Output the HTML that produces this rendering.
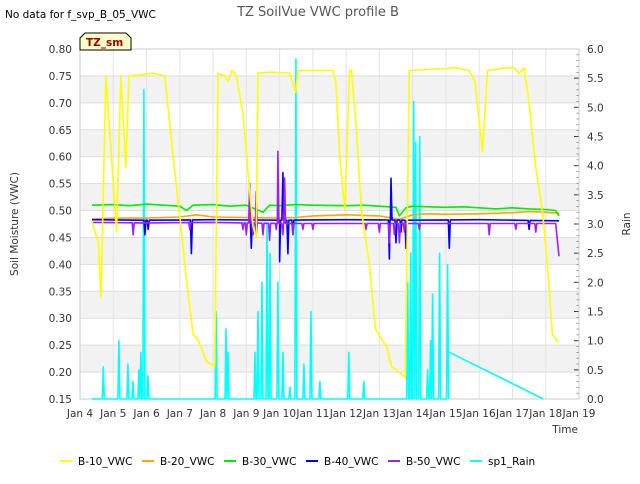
<!DOCTYPE html>
<html><head><meta charset="utf-8"><style>
body{margin:0;background:#fff;font-family:"DejaVu Sans","Liberation Sans",sans-serif;}
svg text{font-family:"DejaVu Sans","Liberation Sans",sans-serif;}
</style></head><body>
<svg id="chart" width="640" height="480" xmlns="http://www.w3.org/2000/svg">
<rect width="640" height="480" fill="#fff"/>
<text x="5" y="18" font-size="10.5" fill="#000">No data for f_svp_B_05_VWC</text>
<text x="318" y="16" font-size="13" fill="#555" text-anchor="middle">TZ SoilVue VWC profile B</text>
<g id="bands"></g><g id="grid"></g><g id="axes"></g><g id="series"></g>
<g>
<path d="M80,50 L80,38 L85,33 L126,33 L131,38 L131,50 Z" fill="#ffffc8" stroke="#000" stroke-width="1"/>
<text x="86" y="46" font-size="10.5" font-weight="bold" fill="#a00000">TZ_sm</text></g>
<text x="18" y="224" font-size="10.5" fill="#333" text-anchor="middle" transform="rotate(-90 18 224)">Soil Moisture (VWC)</text>
<text x="630" y="224" font-size="10.5" fill="#333" text-anchor="middle" transform="rotate(-90 630 224)">Rain</text>
<text x="578" y="433" font-size="10.5" fill="#333" text-anchor="end">Time</text>
<g id="legend"></g>
</svg>
<script>
const xTickLabels=["Jan 4","Jan 5","Jan 6","Jan 7","Jan 8","Jan 9","Jan 10","Jan 11","Jan 12","Jan 13","Jan 14","Jan 15","Jan 16","Jan 17","Jan 18","Jan 19"];
const yTicks=[0.15,0.20,0.25,0.30,0.35,0.40,0.45,0.50,0.55,0.60,0.65,0.70,0.75,0.80];
const y2Ticks=[0,0.5,1,1.5,2,2.5,3,3.5,4,4.5,5,5.5,6];
const b10Days=[4.36,4.55,4.63,4.78,5.1,5.23,5.38,5.47,5.8,6.2,6.55,6.8,7.0,7.2,7.4,7.55,7.8,8.05,8.15,8.35,8.45,8.57,8.7,8.9,9.08,9.2,9.3,9.35,9.7,10.3,10.48,10.55,11.0,11.6,11.69,11.81,11.96,12.1,12.16,12.31,12.46,12.7,12.88,13.08,13.2,13.37,13.6,13.78,13.9,14.5,15.3,15.7,15.87,16.1,16.25,16.8,17.05,17.2,17.35,17.5,17.7,17.9,18.05,18.2,18.37];
const b10Vals=[0.48,0.44,0.34,0.75,0.46,0.75,0.58,0.75,0.752,0.755,0.75,0.60,0.49,0.37,0.27,0.26,0.22,0.21,0.755,0.75,0.74,0.76,0.75,0.68,0.55,0.47,0.45,0.755,0.757,0.755,0.72,0.76,0.76,0.76,0.74,0.60,0.50,0.76,0.76,0.65,0.50,0.40,0.28,0.26,0.25,0.21,0.20,0.19,0.76,0.762,0.765,0.76,0.74,0.61,0.76,0.765,0.765,0.755,0.765,0.70,0.58,0.50,0.40,0.27,0.255];
const b20Days=[4.36,5,6,7,7.5,8,9,10,10.5,11,12,13,13.6,14,14.5,15,16,17,17.5,18,18.4];
const b20Vals=[0.484,0.486,0.486,0.488,0.492,0.488,0.487,0.486,0.487,0.490,0.492,0.490,0.484,0.492,0.494,0.493,0.494,0.496,0.498,0.497,0.495];
const b30Days=[4.36,5,5.5,6,6.5,7,7.2,7.4,8,8.5,9,9.5,9.7,10,10.5,11,12,12.5,13,13.5,13.6,13.8,14,14.5,15,15.5,16,16.5,17,17.5,18,18.3,18.4];
const b30Vals=[0.510,0.511,0.509,0.512,0.510,0.508,0.500,0.510,0.511,0.508,0.510,0.497,0.510,0.509,0.511,0.510,0.509,0.510,0.508,0.506,0.490,0.505,0.508,0.507,0.506,0.507,0.505,0.503,0.505,0.503,0.502,0.500,0.490];
const b40Days=[4.36,6,8,10,12,14,16,18.4];
const b40Vals=[0.483,0.482,0.483,0.482,0.483,0.482,0.483,0.481];
const b40SpikeDays=[5.95,6.05,7.35,9.15,9.3,10.0,10.1,10.25,10.4,13.3,13.35,13.5,13.65,13.8,15.1,17.5];
const b40SpikeVals=[0.455,0.465,0.420,0.430,0.455,0.405,0.570,0.420,0.455,0.410,0.560,0.440,0.460,0.430,0.430,0.465];
const b50Days=[4.36,6,8,10,12,14,16,18.3,18.4];
const b50Vals=[0.478,0.477,0.478,0.476,0.476,0.476,0.476,0.476,0.415];
const b50SpikeDays=[5.6,7.3,8.9,9.0,9.1,9.2,9.3,9.5,9.7,9.9,9.95,10.1,10.15,10.4,10.7,11.0,12.6,13.0,13.3,13.45,13.6,13.75,14.2,16.3,17.1,17.7];
const b50SpikeVals=[0.455,0.465,0.465,0.455,0.550,0.455,0.535,0.455,0.445,0.465,0.610,0.455,0.560,0.455,0.465,0.465,0.465,0.460,0.440,0.455,0.440,0.460,0.465,0.455,0.465,0.460];
const rainDays=[4.7,5.17,5.44,5.59,5.77,5.83,5.92,6.04,8.09,8.39,8.45,9.26,9.35,9.47,9.62,9.71,9.95,10.1,10.31,10.49,10.73,10.94,11.21,12.08,12.53,13.85,13.94,14.03,14.09,14.21,14.45,14.54,14.6,14.81,15.05];
const rainVals=[0.55,1.0,0.6,0.3,0.5,0.8,5.3,0.4,1.5,1.2,0.8,0.8,1.5,2.0,3.0,2.5,2.0,0.8,0.2,5.83,0.6,1.5,0.3,0.8,0.3,2.0,2.5,5.1,4.4,4.5,0.5,1.0,1.8,2.5,2.3];
const rainTailDays=[15.1,17.93];
const rainTailVals=[0.8,0];

const X0=80,X1=579,Y0=399,Y1=49;
const sx=d=>X0+(d-4)*(X1-X0)/15;
const sy=v=>Y0-(v-0.15)*(Y0-Y1)/0.65;
const sy2=v=>Y0-v*(Y0-Y1)/6;
const NS="http://www.w3.org/2000/svg";
function mk(tag,parent,attrs){const e=document.createElementNS(NS,tag);for(const k in attrs)e.setAttribute(k,attrs[k]);document.getElementById(parent).appendChild(e);return e;}

for(let i=0;i<6;i++){const lo=0.20+i*0.1;
const b=mk('rect','bands',{x:X0,y:sy(lo+0.05),width:X1-X0,height:sy(lo)-sy(lo+0.05),fill:'#f2f2f2'});

}
yTicks.forEach(v=>{const g=mk('line','grid',{x1:X0,x2:X1,y1:sy(v),y2:sy(v),stroke:'#ddd','stroke-width':1});


const t=mk('text','axes',{x:X0-8,y:sy(v)+4,'font-size':10.5,fill:'#333','text-anchor':'end'});t.textContent=v.toFixed(2);

});
xTickLabels.forEach((l,i)=>{const x=sx(4+i);
const g=mk('line','grid',{x1:x,x2:x,y1:Y1,y2:Y0,stroke:'#e4e4e4','stroke-width':1});


const t=mk('text','axes',{x:x,y:Y0+18,'font-size':10.5,fill:'#333','text-anchor':'middle'});t.textContent=l;

});
y2Ticks.forEach(v=>{const t=mk('text','axes',{x:X1+8,y:sy2(v)+4,'font-size':10.5,fill:'#333'});t.textContent=v.toFixed(1);


mk('line','axes',{x1:X1,x2:X1-5,y1:sy2(v),y2:sy2(v),stroke:'#333'});});
for(let v=0.1;v<6;v+=0.1){mk('line','axes',{x1:X1,x2:X1-2.5,y1:sy2(v),y2:sy2(v),stroke:'#555','stroke-width':0.6});}
mk('rect','axes',{x:X0,y:Y1,width:X1-X0,height:Y0-Y1,fill:'none',stroke:'#ccc'});

function line(days,vals,color,name,yf){const p=days.map((d,i)=>sx(d).toFixed(1)+','+yf(vals[i]).toFixed(1)).join(' ');
const e=mk('polyline','series',{points:p,fill:'none',stroke:color,'stroke-width':1.6,'stroke-linejoin':'round'});

}
function interp(days,vals,d){for(let i=1;i<days.length;i++){if(d<=days[i]){const t=(d-days[i-1])/(days[i]-days[i-1]);return vals[i-1]+t*(vals[i]-vals[i-1]);}}return vals[vals.length-1];}
function spiky(days,vals,sd,sv){const pts=days.map((d,i)=>[d,vals[i]]);
sd.forEach((d,i)=>{const b=interp(days,vals,d);pts.push([d-0.03,b],[d,sv[i]],[d+0.03,b]);});
pts.sort((a,b)=>a[0]-b[0]);return [pts.map(p=>p[0]),pts.map(p=>p[1])];}
// rain
let rd=[4.36],rv=[0];
rainDays.forEach((d,i)=>{rd.push(d-0.03,d,d+0.03);rv.push(0,rainVals[i],0);});
rd.push(15.08);rv.push(0);
line(rd,rv,'#00ffff','series-sp1-rain',sy2);
line(rainTailDays,rainTailVals,'#00ffff','series-sp1-rain-tail',sy2);
line(b20Days,b20Vals,'#ffa500','series-b20-vwc',sy);
line(b30Days,b30Vals,'#00ee00','series-b30-vwc',sy);
const s40=spiky(b40Days,b40Vals,b40SpikeDays,b40SpikeVals);
line(s40[0],s40[1],'#0000ff','series-b40-vwc',sy);
const s50=spiky(b50Days,b50Vals,b50SpikeDays,b50SpikeVals);
line(s50[0],s50[1],'#a020f0','series-b50-vwc',sy);
line(b10Days,b10Vals,'#ffff00','series-b10-vwc',sy);

const legNames=["B-10_VWC","B-20_VWC","B-30_VWC","B-40_VWC","B-50_VWC","sp1_Rain"];
const legColors=['#ffff00','#ffa500','#00ee00','#0000ff','#a020f0','#00ffff'];
legNames.forEach((n,i)=>{const x=60+i*82;
const l=mk('line','legend',{x1:x,x2:x+12,y1:461,y2:461,stroke:legColors[i],'stroke-width':2});


const t=mk('text','legend',{x:x+18,y:465,'font-size':10.5,fill:'#000'});t.textContent=n;

});
</script>
</body></html>
